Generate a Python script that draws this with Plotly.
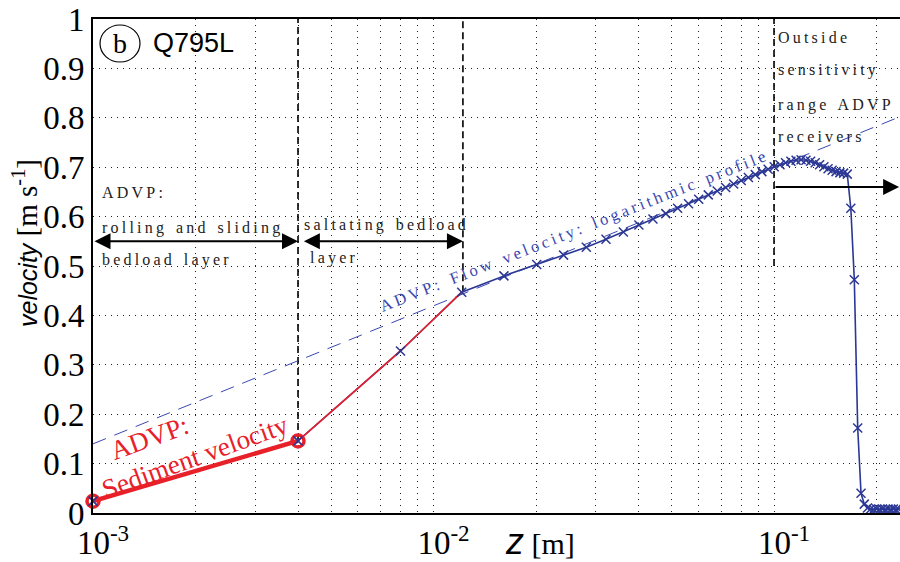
import math
import plotly.graph_objects as go

# ---------------- data ----------------
# ADVP flow velocity profile (blue, x markers)
flow_z = [0.001, 0.004, 0.008, 0.0121, 0.0161, 0.0201, 0.0241, 0.0281, 0.0321, 0.0361,
          0.0401, 0.0441, 0.0481, 0.0521, 0.0561, 0.0601, 0.0641, 0.0681, 0.0721, 0.0761,
          0.0801, 0.0841, 0.0881, 0.0921, 0.0961, 0.1001, 0.1041, 0.1081, 0.1121, 0.1161,
          0.1201, 0.1241, 0.1281, 0.1321, 0.1361, 0.1401, 0.1441, 0.1481, 0.1521, 0.1561,
          0.1601, 0.1641, 0.1681, 0.1721, 0.1761, 0.1801, 0.1841, 0.1881, 0.1921, 0.1961,
          0.2001, 0.2041, 0.2081, 0.2121, 0.2161, 0.2201, 0.2241, 0.2281, 0.2321]
flow_v = [0.024, 0.146, 0.328, 0.447, 0.480, 0.503, 0.522, 0.538, 0.554, 0.569,
          0.583, 0.595, 0.606, 0.617, 0.626, 0.635, 0.644, 0.652, 0.659, 0.666,
          0.673, 0.679, 0.685, 0.691, 0.696, 0.701, 0.705, 0.709, 0.712, 0.714,
          0.715, 0.714, 0.712, 0.709, 0.705, 0.701, 0.697, 0.694, 0.691, 0.689,
          0.688, 0.686, 0.617, 0.472, 0.172, 0.040, 0.018, 0.010, 0.008, 0.007,
          0.008, 0.007, 0.008, 0.007, 0.008, 0.007, 0.008, 0.007, 0.008]

# ADVP sediment velocity (red)
sed_thick_z = [0.001, 0.004]
sed_thick_v = [0.024, 0.146]
sed_thin_z = [0.004, 0.008, 0.0121]
sed_thin_v = [0.146, 0.328, 0.447]

# logarithmic profile fit (dashed)
profile_z = [0.001, 0.234]
profile_v = [0.14, 0.802]

# layer boundaries (vertical dashed lines)
boundary_z = [0.004, 0.0122, 0.1]
boundary_vlow = [0.146, 0.447, 0.50]
boundary_vtop = 1.0

# layer arrows: (z_start, z_end, v, heads)
arrow_z0 = [0.001, 0.00412, 0.1]
arrow_z1 = [0.004, 0.0122, 0.233]
arrow_v = [0.55, 0.55, 0.66]
arrow_sides = ["end+start", "end+start", "end"]

# axis ticks
decades = [0.001, 0.01, 0.1]
xtick_vals = [d * m for d in decades for m in range(1, 10)] + [0.2]
xtick_text = ["10<sup>%d</sup>" % round(math.log10(v)) if abs(math.log10(v) - round(math.log10(v))) < 1e-9 else ""
              for v in xtick_vals]
ytick_vals = [0, 0.1, 0.2, 0.3, 0.4, 0.5, 0.6, 0.7, 0.8, 0.9, 1]
ytick_text = ["0", "0.1", "0.2", "0.3", "0.4", "0.5", "0.6", "0.7", "0.8", "0.9", "1"]

# ---------------- style ----------------
BLUE = "#2B3794"
BLUE_LIGHT = "#3A48B0"
RED = "#E8202A"
SERIF = "Liberation Serif, Times New Roman, serif"
SANS = "Liberation Sans, Arial, sans-serif"

W, H = 900, 562
ML, MR, MT, MB = 93, 0, 19, 49
PW, PH = W - ML - MR, H - MT - MB


def P(x):
    return (x - ML) / PW


def Q(y):
    return (H - MB - y) / PH


def spaced(s):
    return "   ".join("\u2009".join(list(w)) for w in s.split(" "))


fig = go.Figure()

# vertical boundary lines
for z, vl in zip(boundary_z, boundary_vlow):
    fig.add_trace(go.Scatter(x=[z, z], y=[vl, boundary_vtop], mode="lines",
                             line=dict(color="black", width=1.6, dash="7px,4px"),
                             hoverinfo="skip", showlegend=False))

# log profile
fig.add_trace(go.Scatter(x=profile_z, y=profile_v, mode="lines",
                         line=dict(color=BLUE_LIGHT, width=1, dash="14px,9px"),
                         showlegend=False))

# flow velocity line
fig.add_trace(go.Scatter(x=flow_z, y=flow_v, mode="lines",
                         line=dict(color=BLUE, width=1.6), showlegend=False, cliponaxis=False))

# sediment velocity
fig.add_trace(go.Scatter(x=sed_thin_z, y=sed_thin_v, mode="lines",
                         line=dict(color=RED, width=1.6), showlegend=False))
fig.add_trace(go.Scatter(x=sed_thick_z, y=sed_thick_v, mode="lines+markers",
                         line=dict(color=RED, width=4.5),
                         marker=dict(symbol="circle-open", size=12, color=RED,
                                     line=dict(width=3.5, color=RED)),
                         showlegend=False, cliponaxis=False))

# flow velocity markers on top
fig.add_trace(go.Scatter(x=flow_z, y=flow_v, mode="markers",
                         marker=dict(symbol="x-thin", size=9, color=BLUE,
                                     line=dict(width=1.5, color=BLUE)),
                         showlegend=False, cliponaxis=False))

annotations = []

# arrows
for z0, z1, v, side in zip(arrow_z0, arrow_z1, arrow_v, arrow_sides):
    annotations.append(dict(x=math.log10(z1), y=v, ax=math.log10(z0), ay=v,
                            xref="x", yref="y", axref="x", ayref="y", text="",
                            showarrow=True, arrowhead=2, startarrowhead=2, arrowside=side,
                            arrowwidth=2, arrowsize=1.6, startarrowsize=1.6,
                            arrowcolor="black", standoff=0, startstandoff=0))

txt_font = dict(family=SERIF, size=16, color="#222")
black_texts = [
    ("ADVP:", 100, 192),
    ("rolling and sliding", 100, 228),
    ("bedload layer", 100, 260),
    ("saltating bedload", 302, 225),
    ("layer", 308, 258),
    ("Outside", 776, 37),
    ("sensitivity", 776, 70),
    ("range ADVP", 776, 105),
    ("receivers", 776, 136),
]
for t, x, y in black_texts:
    annotations.append(dict(x=P(x), y=Q(y), xref="paper", yref="paper", text=spaced(t),
                            showarrow=False, xanchor="left", yanchor="middle", font=txt_font))

# blue rotated label along the log profile
annotations.append(dict(x=P(572), y=Q(231), xref="paper", yref="paper",
                        text=spaced("ADVP: Flow velocity: logarithmic profile"),
                        showarrow=False, textangle=-21.5, xanchor="center", yanchor="middle",
                        font=dict(family=SERIF, size=16.5, color=BLUE_LIGHT)))

# red rotated labels
annotations.append(dict(x=P(149), y=Q(438), xref="paper", yref="paper", text="ADVP:",
                        showarrow=False, textangle=-20, xanchor="center", yanchor="middle",
                        font=dict(family=SERIF, size=27, color=RED)))
annotations.append(dict(x=P(195), y=Q(457), xref="paper", yref="paper", text="Sediment velocity",
                        showarrow=False, textangle=-20, xanchor="center", yanchor="middle",
                        font=dict(family=SERIF, size=27, color=RED)))

# panel label
annotations.append(dict(x=P(120), y=Q(43), xref="paper", yref="paper", text="b",
                        showarrow=False, xanchor="center", yanchor="middle",
                        font=dict(family=SERIF, size=28, color="black")))
annotations.append(dict(x=P(151), y=Q(43), xref="paper", yref="paper", text="Q795L",
                        showarrow=False, xanchor="left", yanchor="middle",
                        font=dict(family=SANS, size=27, color="black")))

# axis titles
annotations.append(dict(x=P(540), y=Q(541), xref="paper", yref="paper",
                        xanchor="center", yanchor="middle",
                        text='<span style="font-family:Liberation Sans;font-size:36px"><i>z</i></span>'
                             '<span style="font-family:Liberation Serif"> [m]</span>',
                        showarrow=False, font=dict(family=SERIF, size=30, color="black")))
annotations.append(dict(x=P(25), y=Q(243), xref="paper", yref="paper", textangle=-90,
                        xanchor="center", yanchor="middle",
                        text='<span style="font-family:Liberation Sans;font-size:25px">'
                             '<i>velocity</i></span> [m s<sup>-1</sup>]',
                        showarrow=False, font=dict(family=SERIF, size=29, color="black")))

shapes = [dict(type="circle", xref="paper", yref="paper",
               x0=P(100), x1=P(140), y0=Q(62), y1=Q(25),
               line=dict(color="black", width=1.2))]

grid = dict(showgrid=True, gridcolor="rgb(30,30,30)", gridwidth=1, griddash="1px,5px")

fig.update_layout(
    width=W, height=H,
    margin=dict(l=ML, r=MR, t=MT, b=MB, pad=0),
    paper_bgcolor="white", plot_bgcolor="white",
    xaxis=dict(type="log", range=[-3, math.log10(0.2344)],
               tickmode="array", tickvals=xtick_vals, ticktext=xtick_text,
               tickfont=dict(family=SERIF, size=33, color="black"),
               ticklabelshift=10,
               showline=True, linecolor="black", linewidth=1.6, mirror=True,
               ticks="", zeroline=False, **grid),
    yaxis=dict(range=[0, 1], tickmode="array", tickvals=ytick_vals, ticktext=ytick_text,
               tickfont=dict(family=SERIF, size=33, color="black"),
               showline=True, linecolor="black", linewidth=1.6,
               ticks="", zeroline=False, **grid),
    annotations=annotations,
    shapes=shapes,
    showlegend=False,
)

fig.write_html("out.html")
